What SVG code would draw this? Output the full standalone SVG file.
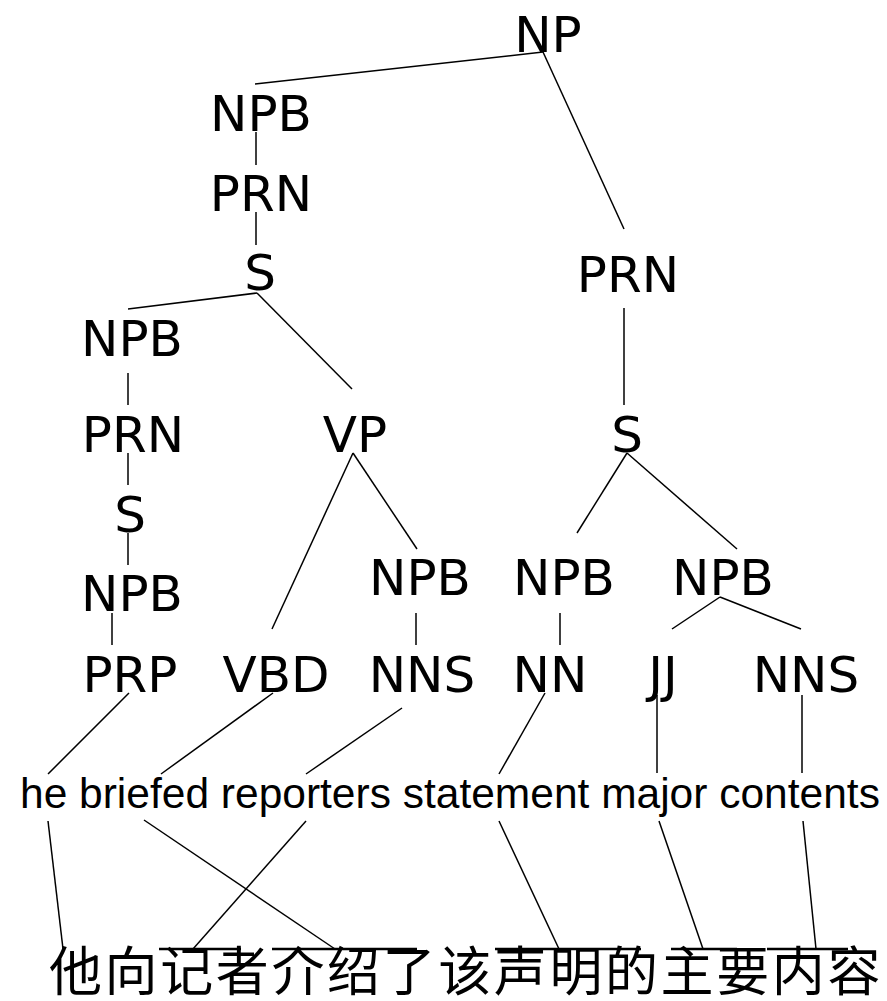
<svg xmlns="http://www.w3.org/2000/svg" width="887" height="1001" viewBox="0 0 887 1001">
<style>
.t{font-family:"DejaVu Sans",Verdana,sans-serif;font-size:50px;fill:#000;text-anchor:middle}
.e{font-family:"Liberation Sans",Arial,sans-serif;font-size:42.5px;fill:#000}
.z{font-family:"Noto Sans CJK SC",sans-serif;font-size:53px;letter-spacing:2.6px;fill:#000}
.c line{stroke:#000;stroke-width:1.5}
.b line{stroke:#000;stroke-width:2.5}
</style>
<rect width="887" height="1001" fill="#fff"/>
<g id="connectors" class="c">
<line x1="543" y1="52" x2="255" y2="84"/>
<line x1="543" y1="52" x2="624" y2="229"/>
<line x1="256" y1="132" x2="256" y2="165"/>
<line x1="256" y1="212" x2="256" y2="245"/>
<line x1="257" y1="293" x2="128" y2="309"/>
<line x1="257" y1="293" x2="352" y2="389"/>
<line x1="128" y1="373" x2="128" y2="405"/>
<line x1="128" y1="453" x2="128" y2="485"/>
<line x1="128" y1="533" x2="128" y2="565"/>
<line x1="112" y1="613" x2="112" y2="645"/>
<line x1="353" y1="453" x2="272" y2="629"/>
<line x1="353" y1="453" x2="417" y2="549"/>
<line x1="416" y1="613" x2="416" y2="645"/>
<line x1="624" y1="308" x2="624" y2="405"/>
<line x1="627" y1="453" x2="577" y2="533"/>
<line x1="627" y1="453" x2="737" y2="549"/>
<line x1="560" y1="613" x2="560" y2="645"/>
<line x1="720" y1="597" x2="672" y2="629"/>
<line x1="720" y1="597" x2="801" y2="629"/>
<line x1="129" y1="693" x2="48" y2="774"/>
<line x1="273" y1="693" x2="161" y2="774"/>
<line x1="402" y1="708" x2="306" y2="774"/>
<line x1="545" y1="693" x2="499" y2="774"/>
<line x1="657" y1="695" x2="657" y2="773"/>
<line x1="802" y1="695" x2="802" y2="773"/>
<line x1="48" y1="821" x2="63" y2="949"/>
<line x1="144" y1="820" x2="335" y2="949"/>
<line x1="306" y1="821" x2="193" y2="949"/>
<line x1="499" y1="821" x2="559" y2="949"/>
<line x1="659" y1="821" x2="703" y2="949"/>
<line x1="803" y1="821" x2="816" y2="949"/>
</g>
<g id="bars" class="b">
<line x1="159" y1="949" x2="241" y2="949"/>
<line x1="272" y1="949" x2="417" y2="949"/>
<line x1="495" y1="949" x2="641" y2="949"/>
<line x1="671" y1="949" x2="737" y2="949"/>
<line x1="767" y1="949" x2="848" y2="949"/>
</g>
<g id="n-NP"><text class="t" x="548" y="52">NP</text></g>
<g id="n-NPB1"><text class="t" x="261" y="131">NPB</text></g>
<g id="n-PRN1"><text class="t" x="261" y="211">PRN</text></g>
<g id="n-S1"><text class="t" x="260" y="290">S</text></g>
<g id="n-PRN2"><text class="t" x="628" y="292">PRN</text></g>
<g id="n-NPB2"><text class="t" x="132" y="356">NPB</text></g>
<g id="n-PRN3"><text class="t" x="133" y="452">PRN</text></g>
<g id="n-VP"><text class="t" x="355" y="452">VP</text></g>
<g id="n-S2"><text class="t" x="627" y="452">S</text></g>
<g id="n-S3"><text class="t" x="130" y="532">S</text></g>
<g id="n-NPB3"><text class="t" x="132" y="611">NPB</text></g>
<g id="n-NPB4"><text class="t" x="420" y="595">NPB</text></g>
<g id="n-NPB5"><text class="t" x="564" y="595">NPB</text></g>
<g id="n-NPB6"><text class="t" x="723" y="595">NPB</text></g>
<g id="n-PRP"><text class="t" x="130" y="692">PRP</text></g>
<g id="n-VBD"><text class="t" x="276" y="692">VBD</text></g>
<g id="n-NNS1"><text class="t" x="422" y="692">NNS</text></g>
<g id="n-NN"><text class="t" x="550" y="692">NN</text></g>
<g id="n-JJ"><text class="t" x="663" y="692">JJ</text></g>
<g id="n-NNS2"><text class="t" x="806" y="692">NNS</text></g>
<g id="english"><text class="e" x="20" y="808">he briefed reporters statement major contents</text></g>
<g id="chinese"><text class="z" x="49" y="991">他向记者介绍了该声明的主要内容</text></g>
</svg>
